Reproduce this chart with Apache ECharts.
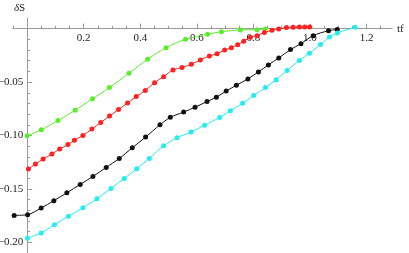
<!DOCTYPE html>
<html><head><meta charset="utf-8">
<script src="https://cdn.jsdelivr.net/npm/echarts@6/dist/echarts.min.js"></script>
<style>html,body{margin:0;padding:0;background:#fff}#c{width:409px;height:253px}</style>
</head><body><div id="c"></div>
<script>
const greenX = [0.0, 0.05, 0.109, 0.17, 0.231, 0.291, 0.36, 0.426, 0.491, 0.56, 0.638, 0.687, 0.754, 0.813, 0.842];
const greenY = [-0.1003, -0.0947, -0.086, -0.0763, -0.0657, -0.0551, -0.0417, -0.0286, -0.0178, -0.0099, -0.0052, -0.0028, -0.0012, -0.0009, -0.0003];

const redX = [0.0046, 0.0294, 0.0566, 0.0874, 0.115, 0.1444, 0.1671, 0.1972, 0.229, 0.2602, 0.2913, 0.3232, 0.355, 0.3858, 0.4177, 0.4506, 0.4825, 0.5158, 0.5476, 0.5805, 0.6124, 0.6442, 0.6715, 0.6984, 0.7221, 0.7444, 0.7657, 0.7894, 0.8131, 0.8389, 0.8655, 0.8896, 0.9168, 0.9405, 0.9628, 0.9816, 0.9993];
const redY = [-0.1314, -0.1267, -0.1221, -0.1174, -0.1126, -0.1085, -0.1045, -0.1, -0.0939, -0.0879, -0.0818, -0.0757, -0.0696, -0.0636, -0.0579, -0.0505, -0.0449, -0.0386, -0.0364, -0.0333, -0.0293, -0.0255, -0.0234, -0.0199, -0.0178, -0.015, -0.0118, -0.008, -0.0065, -0.0036, -0.0015, -0.0003, 0.001, 0.0014, 0.0015, 0.0015, 0.0015];

const blackX = [-0.046, 0.0018, 0.0496, 0.0945, 0.1405, 0.1876, 0.2326, 0.2796, 0.3257, 0.3717, 0.4188, 0.4697, 0.5062, 0.5533, 0.5936, 0.6361, 0.669, 0.7037, 0.7398, 0.7805, 0.8177, 0.8531, 0.8896, 0.931, 0.9681, 1.0113, 1.0655, 1.0963];
const blackY = [-0.1748, -0.1741, -0.1679, -0.161, -0.1536, -0.1458, -0.1383, -0.1299, -0.1215, -0.1115, -0.1015, -0.09, -0.083, -0.0781, -0.0735, -0.0682, -0.0641, -0.0584, -0.0529, -0.047, -0.0405, -0.0339, -0.0274, -0.0196, -0.014, -0.0065, -0.0019, -0.0007];

const cyanX = [0.001, 0.0496, 0.0966, 0.1462, 0.1972, 0.2467, 0.2963, 0.3434, 0.3876, 0.4319, 0.4825, 0.5299, 0.5795, 0.6276, 0.6807, 0.7186, 0.7621, 0.8011, 0.8425, 0.8804, 0.9193, 0.9628, 0.9982, 1.0372, 1.069, 1.0973, 1.1593];
const cyanY = [-0.1961, -0.1912, -0.1835, -0.1757, -0.1676, -0.1592, -0.1495, -0.1402, -0.1311, -0.1215, -0.1096, -0.1021, -0.0968, -0.0903, -0.0832, -0.0769, -0.0697, -0.0626, -0.0551, -0.0477, -0.0391, -0.0297, -0.023, -0.0148, -0.0078, -0.004, 0.0013];

const xMajorTicks = [0.2, 0.4, 0.6, 0.8, 1.0, 1.2];
const xMinorTicks = [-0.05, 0.05, 0.1, 0.15, 0.25, 0.3, 0.35, 0.45, 0.5, 0.55, 0.65, 0.7, 0.75, 0.85, 0.9, 0.95, 1.05, 1.1, 1.15, 1.25];
const yMajorTicks = [-0.2, -0.15, -0.1, -0.05];
const yMinorTicks = [-0.01, -0.02, -0.03, -0.04, -0.06, -0.07, -0.08, -0.09, -0.11, -0.12, -0.13, -0.14, -0.16, -0.17, -0.18, -0.19];
const xLabels = ['0.2', '0.4', '0.6', '0.8', '1.0', '1.2'];
const yLabels = ['\u22120.20', '\u22120.15', '\u22120.10', '\u22120.05'];

const X_MIN = -0.05, X_MAX = 1.29, Y_MIN = -0.21, Y_MAX = 0.01;
const G = { left: 13, right: 17, top: 18, bottom: 0 };
const W = 409, H = 253;
const pxPerX = (W - G.left - G.right) / (X_MAX - X_MIN);
const pxPerY = (H - G.top - G.bottom) / (Y_MAX - Y_MIN);
const zeroX = G.left + (0 - X_MIN) * pxPerX;
const zeroY = G.top + (Y_MAX - 0) * pxPerY;

const zip = (xs, ys) => xs.map((x, i) => [x, ys[i]]);
const AX = '#9a9a9a';
const FONT = 'Liberation Serif';
const pick = (ticks, labels) => v => { const i = ticks.findIndex(t => Math.abs(t - v) < 1e-9); return i >= 0 ? labels[i] : ''; };

function mkSeries(xs, ys, color) {
  return {
    type: 'line', xAxisIndex: 0, yAxisIndex: 0,
    data: zip(xs, ys), smooth: 0.3, symbol: 'circle', symbolSize: 5,
    itemStyle: { color: color }, lineStyle: { color: color, width: 1 },
    clip: false, z: 5
  };
}

const chart = echarts.init(document.getElementById('c'), null, { renderer: 'canvas' });
chart.setOption({
  animation: false,
  grid: [
    { left: G.left, right: G.right, top: G.top, bottom: G.bottom, containLabel: false, outerBoundsMode: 'none' },
    { left: zeroX, right: G.right, top: zeroY, bottom: G.bottom, containLabel: false, outerBoundsMode: 'none' }
  ],
  xAxis: [
    {
      gridIndex: 0, type: 'value', min: X_MIN, max: X_MAX, position: 'bottom',
      axisLine: { show: true, onZero: true, onZeroAxisIndex: 0, lineStyle: { color: AX, width: 1 } },
      axisTick: { show: true, inside: true, length: 5, customValues: xMajorTicks, lineStyle: { color: AX } },
      axisLabel: { show: false },
      splitLine: { show: false },
      name: 'tf', nameLocation: 'end', nameGap: 5,
      nameTextStyle: { color: '#222', fontFamily: FONT, fontSize: 11, align: 'left', verticalAlign: 'middle' }
    },
    {
      gridIndex: 0, type: 'value', min: X_MIN, max: X_MAX, position: 'bottom',
      axisLine: { show: false, onZero: true, onZeroAxisIndex: 0 },
      axisTick: { show: true, inside: true, length: 3, customValues: xMinorTicks, lineStyle: { color: AX } },
      axisLabel: { show: false }, splitLine: { show: false }
    },
    {
      gridIndex: 1, type: 'value', min: 0, max: X_MAX, position: 'top',
      axisLine: { show: false, onZero: false }, axisTick: { show: false }, splitLine: { show: false },
      axisLabel: { show: true, inside: true, customValues: xMajorTicks, margin: 4, color: '#222',
        fontFamily: FONT, fontSize: 11, formatter: pick(xMajorTicks, xLabels) }
    }
  ],
  yAxis: [
    {
      gridIndex: 0, type: 'value', min: Y_MIN, max: Y_MAX, position: 'left',
      axisLine: { show: true, onZero: true, onZeroAxisIndex: 0, lineStyle: { color: AX, width: 1 } },
      axisTick: { show: true, inside: true, length: 5, customValues: yMajorTicks, lineStyle: { color: AX } },
      axisLabel: { show: false },
      splitLine: { show: false },
      name: '{d|δ}S', nameLocation: 'end', nameGap: 4,
      nameTextStyle: { color: '#222', fontFamily: FONT, fontSize: 11, align: 'right', padding: [0, 2, 0, 0],
        rich: { d: { fontStyle: 'italic', fontFamily: FONT, fontSize: 11, color: '#222' } } }
    },
    {
      gridIndex: 0, type: 'value', min: Y_MIN, max: Y_MAX, position: 'left',
      axisLine: { show: false, onZero: true, onZeroAxisIndex: 0 },
      axisTick: { show: true, inside: true, length: 3, customValues: yMinorTicks, lineStyle: { color: AX } },
      axisLabel: { show: false }, splitLine: { show: false }
    },
    {
      gridIndex: 1, type: 'value', min: Y_MIN, max: 0, position: 'left',
      axisLine: { show: false, onZero: false }, axisTick: { show: false }, splitLine: { show: false },
      axisLabel: { show: true, customValues: yMajorTicks, margin: 4, color: '#222',
        fontFamily: FONT, fontSize: 11, formatter: pick(yMajorTicks, yLabels) }
    }
  ],
  series: [
    mkSeries(greenX, greenY, '#5aee2a'),
    mkSeries(redX, redY, '#ff2020'),
    mkSeries(blackX, blackY, '#111111'),
    mkSeries(cyanX, cyanY, '#22eef0')
  ]
});
</script>
</body></html>
